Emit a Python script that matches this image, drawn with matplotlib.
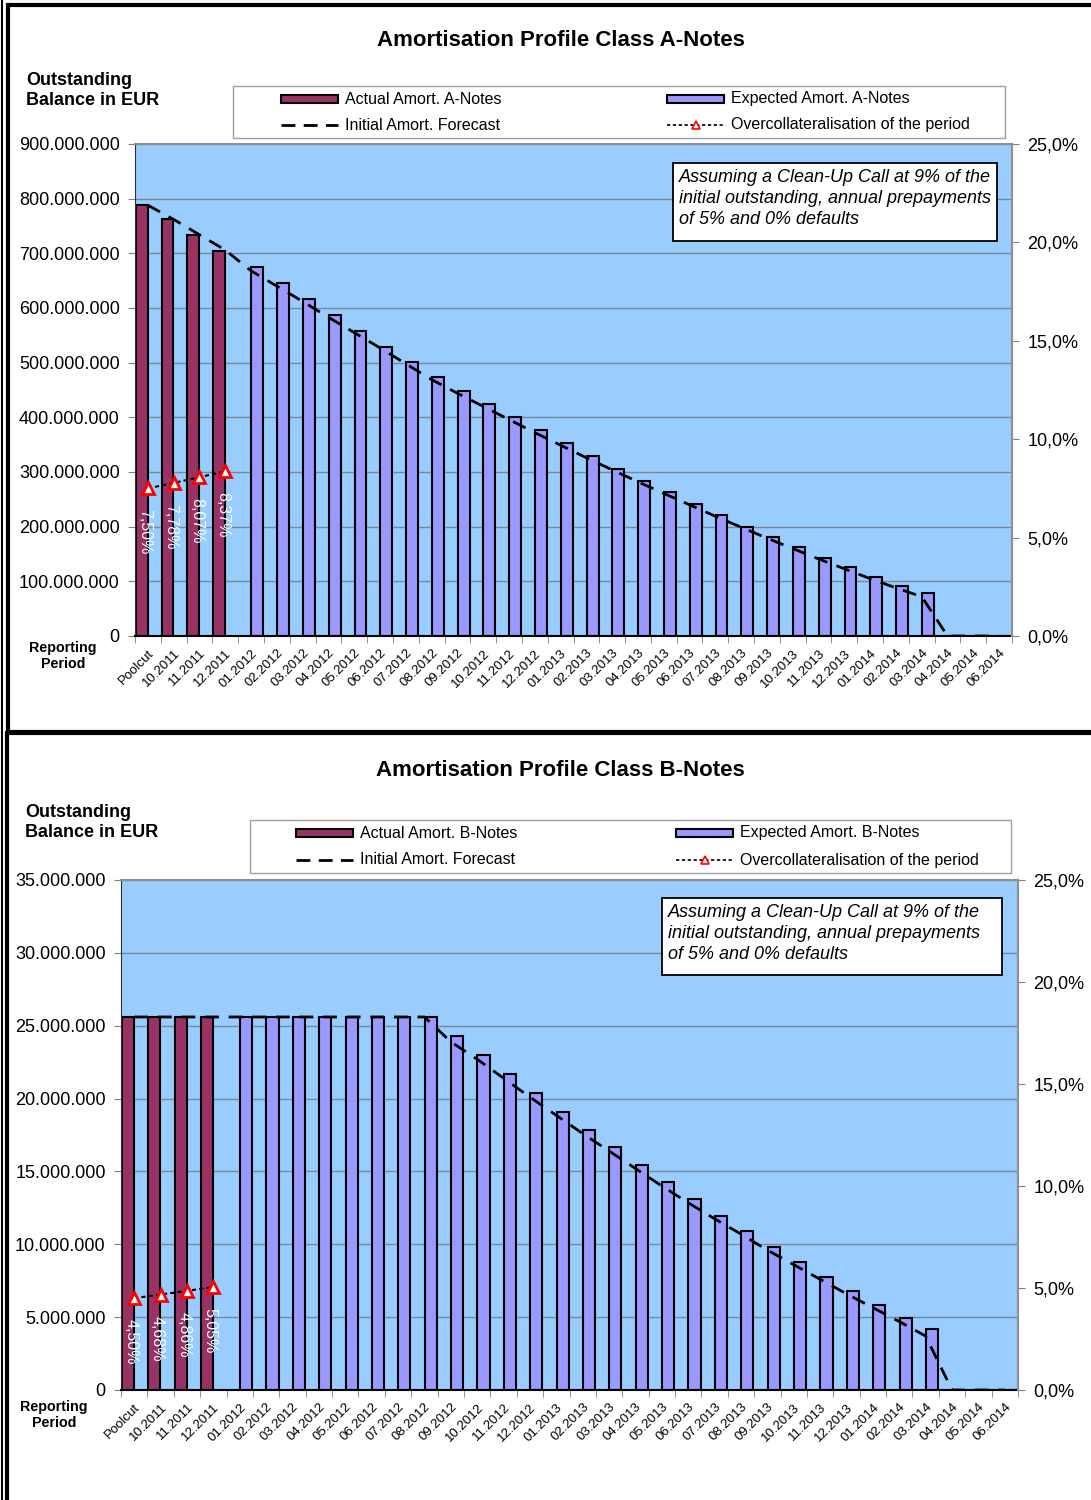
import numpy as np
import matplotlib.pyplot as plt
from matplotlib.patches import Rectangle
from matplotlib.lines import Line2D
from matplotlib.transforms import ScaledTranslation

plt.rcParams['font.family'] = ['Liberation Sans', 'DejaVu Sans']

# Reporting periods (x axis)
periods = ["Poolcut", "10.2011", "11.2011", "12.2011",
           "01.2012", "02.2012", "03.2012", "04.2012", "05.2012", "06.2012",
           "07.2012", "08.2012", "09.2012", "10.2012", "11.2012", "12.2012",
           "01.2013", "02.2013", "03.2013", "04.2013", "05.2013", "06.2013",
           "07.2013", "08.2013", "09.2013", "10.2013", "11.2013", "12.2013",
           "01.2014", "02.2014", "03.2014", "04.2014", "05.2014", "06.2014"]

# Class A-Notes (EUR), actual for the first 4 periods, expected afterwards
actual_a = np.array([788, 763, 734, 705]) * 1e6
expected_a = np.array([675, 645, 616, 587, 558, 529, 501, 474, 448, 424,
                       400, 376, 353, 329, 306, 284, 263, 242, 221, 200,
                       181, 162, 143, 126, 108, 91.5, 78, 0, 0, 0]) * 1e6
forecast_a = np.array([788, 762, 734, 706, 668, 640, 612, 583, 555, 527,
                       498, 469, 444, 420, 396, 372, 349, 326, 304, 282,
                       261, 240, 219, 199, 179, 160, 141, 123, 105, 88,
                       72, 0, 0, 0]) * 1e6
oc_a = [0.0750, 0.0778, 0.0807, 0.0837]

# Class B-Notes (EUR)
actual_b = np.array([25.6, 25.6, 25.6, 25.6]) * 1e6
expected_b = np.array([25.6, 25.6, 25.6, 25.6, 25.6, 25.6, 25.6, 25.6,
                       24.3, 22.97, 21.67, 20.38, 19.1, 17.84, 16.66, 15.44,
                       14.25, 13.09, 11.96, 10.91, 9.79, 8.78, 7.75, 6.8,
                       5.83, 4.94, 4.19, 0, 0, 0]) * 1e6
forecast_b = np.array([25.6, 25.6, 25.6, 25.6, 25.6, 25.6, 25.6, 25.6,
                       25.6, 25.6, 25.6, 25.6, 23.9, 22.7, 21.4, 20.1,
                       18.85, 17.6, 16.4, 15.2, 14.0, 12.85, 11.75, 10.7,
                       9.6, 8.6, 7.6, 6.6, 5.65, 4.7, 3.7, 0, 0, 0]) * 1e6
oc_b = [0.0450, 0.0468, 0.0486, 0.0505]

note = ("Assuming a Clean-Up Call at 9% of the\n"
        "initial outstanding, annual prepayments\n"
        "of 5% and 0% defaults")

PLUM = '#993366'
LAV = '#9999FF'
SKY = '#99CCFF'
GRID = '#7a8898'

W, H = 1091, 1500
fig = plt.figure(figsize=(W / 100, H / 100), dpi=100)


def fx(px):
    return px / W


def fy(py):
    return 1 - py / H


def frect(x0, y0, x1, y1, **kw):
    r = Rectangle((fx(x0), fy(y1)), (x1 - x0) / W, (y1 - y0) / H,
                  transform=fig.transFigure, **kw)
    fig.add_artist(r)
    return r


def draw_legend(box, cols, rows, cls):
    frect(*box, fc='white', ec='#a0a0a0', lw=1)
    c1, c2 = cols
    r1, r2 = rows
    hw = 57
    fs = 11.5
    # bar handles
    frect(c1, r1 - 4, c1 + hw, r1 + 4, fc=PLUM, ec='black', lw=1.5)
    frect(c2, r1 - 4, c2 + hw, r1 + 4, fc=LAV, ec='black', lw=1.5)
    fig.text(fx(c1 + 7 + hw), fy(r1), f"Actual Amort. {cls}-Notes",
             fontsize=fs, va='center')
    fig.text(fx(c2 + 7 + hw), fy(r1), f"Expected Amort. {cls}-Notes",
             fontsize=fs, va='center')
    # line handles
    fig.add_artist(Line2D([fx(c1), fx(c1 + hw)], [fy(r2), fy(r2)],
                          transform=fig.transFigure, color='black', lw=2,
                          ls=(0, (5, 3))))
    fig.add_artist(Line2D([fx(c2), fx(c2 + hw)], [fy(r2), fy(r2)],
                          transform=fig.transFigure, color='black', lw=1.2,
                          ls=(0, (2, 1.5))))
    fig.add_artist(Line2D([fx(c2 + hw / 2)], [fy(r2)],
                          transform=fig.transFigure, marker='^', ms=6,
                          mfc='white', mec='red', mew=1.2, ls='none'))
    fig.text(fx(c1 + 7 + hw), fy(r2), "Initial Amort. Forecast",
             fontsize=fs, va='center')
    fig.text(fx(c2 + 7 + hw), fy(r2), "Overcollateralisation of the period",
             fontsize=fs, va='center')


def draw_chart(frame, title_xy, plot, ymax, ystep,
               actual, expected, forecast, oc, cls,
               legend_box, legend_cols, legend_rows, note_box,
               ylabel_xy, xlabel_xy):
    # panel frame
    frect(*frame, fc='none', ec='black', lw=3)

    fig.text(fx(title_xy[0]), fy(title_xy[1]), f"Amortisation Profile Class {cls}-Notes",
             ha='center', va='baseline', fontsize=16, weight='bold')
    lx, ly = ylabel_xy
    fig.text(fx(lx), fy(ly), "Outstanding", ha='left', va='baseline',
             fontsize=13, weight='bold')
    fig.text(fx(lx), fy(ly + 20), "Balance in EUR", ha='left', va='baseline',
             fontsize=13, weight='bold')
    rx, ry = xlabel_xy
    fig.text(fx(rx), fy(ry), "Reporting", ha='center', va='baseline',
             fontsize=10.3, weight='bold')
    fig.text(fx(rx), fy(ry + 16), "Period", ha='center', va='baseline',
             fontsize=10.3, weight='bold')

    l, t, r, b = plot
    ax = fig.add_axes([fx(l), fy(b), (r - l) / W, (b - t) / H])
    ax.set_facecolor(SKY)
    ax.set_axisbelow(True)

    x = np.arange(len(periods))
    n_act = len(actual)
    ax.bar(x[:n_act] - 0.24, actual, width=0.46, color=PLUM,
           edgecolor='black', lw=1.5, zorder=2)
    ax.bar(x[n_act:] + 0.24, expected, width=0.46, color=LAV,
           edgecolor='black', lw=1.5, zorder=2)
    ax.plot(x, forecast, color='black', lw=2, ls=(0, (5, 3.5)), zorder=3)

    ax.set_xlim(-0.5, len(periods) - 0.5)
    ax.set_ylim(0, ymax)
    yt = np.arange(0, ymax + 1, ystep)
    ax.set_yticks(yt)
    ax.set_yticklabels([f"{v:,.0f}".replace(",", ".") for v in yt], fontsize=13)
    ax.yaxis.grid(True, color=GRID, lw=1)
    ax.tick_params(axis='y', length=5, color='#808080', pad=6)

    ax.set_xticks(x)
    ax.set_xticklabels(periods, rotation=45, ha='right', va='top',
                       rotation_mode='anchor', fontsize=9.5)
    shift = ScaledTranslation(3 / 100, 0, fig.dpi_scale_trans)
    for lbl in ax.get_xticklabels():
        lbl.set_transform(lbl.get_transform() + shift)
    ax.set_xticks(np.arange(len(periods) + 1) - 0.5, minor=True)
    ax.tick_params(axis='x', which='major', length=0, pad=8)
    ax.tick_params(axis='x', which='minor', length=5, color='#808080')

    for s in ('top', 'right'):
        ax.spines[s].set_color('#909090')
        ax.spines[s].set_linewidth(1.5)
    ax.spines['left'].set_color('#303030')
    ax.spines['bottom'].set_color('black')
    ax.spines['bottom'].set_linewidth(1.5)

    # overcollateralisation on the secondary axis
    ax2 = ax.twinx()
    ax2.set_ylim(0, 0.25)
    pt = np.arange(0, 0.2501, 0.05)
    ax2.set_yticks(pt)
    ax2.set_yticklabels([f"{v * 100:.1f}%".replace(".", ",") for v in pt],
                        fontsize=13)
    ax2.tick_params(axis='y', length=5, color='#808080', pad=6)
    for s in ('top', 'left', 'bottom'):
        ax2.spines[s].set_visible(False)
    ax2.spines['right'].set_color('#909090')
    ax2.spines['right'].set_linewidth(1.5)
    ax2.plot(x[:len(oc)], oc, color='black', lw=1.5, ls=(0, (2, 1.5)),
             marker='^', ms=8, mfc='white', mec='red', mew=2, zorder=4)
    for i, v in enumerate(oc):
        ax2.annotate(f"{v * 100:.2f}%".replace(".", ","), xy=(x[i], v),
                     xytext=(-3, -21), textcoords='offset pixels',
                     rotation=-90, ha='center', va='top', color='white',
                     fontsize=11.5)

    draw_legend(legend_box, legend_cols, legend_rows, cls)

    # scenario note
    nl, nt, nr, nb = note_box
    frect(nl, nt, nr, nb, fc='white', ec='black', lw=1.3, zorder=5)
    fig.text(fx(nl + 6), fy(nt + 6), note, ha='left', va='top',
             fontsize=13, style='italic', zorder=6, linespacing=1.3)
    return ax


draw_chart(frame=(8, 5, 1100, 732), title_xy=(561, 46),
           plot=(135, 144, 1012, 636), ymax=900e6, ystep=100e6,
           actual=actual_a, expected=expected_a, forecast=forecast_a, oc=oc_a,
           cls="A", legend_box=(233, 86, 1005, 138), legend_cols=(281, 667),
           legend_rows=(99, 125), note_box=(673, 163, 997, 241),
           ylabel_xy=(26, 85), xlabel_xy=(63, 652))

draw_chart(frame=(7, 733, 1100, 1510), title_xy=(560, 776),
           plot=(121, 880, 1018, 1390), ymax=35e6, ystep=5e6,
           actual=actual_b, expected=expected_b, forecast=forecast_b, oc=oc_b,
           cls="B", legend_box=(250, 820, 1011, 873), legend_cols=(296, 676),
           legend_rows=(833, 860), note_box=(662, 898, 1002, 975),
           ylabel_xy=(25, 817), xlabel_xy=(54, 1411))

fig.add_artist(Line2D([fx(1.5), fx(1.5)], [0, 1], transform=fig.transFigure,
                      color='black', lw=1.5))

fig.savefig('out.png', dpi=100)
